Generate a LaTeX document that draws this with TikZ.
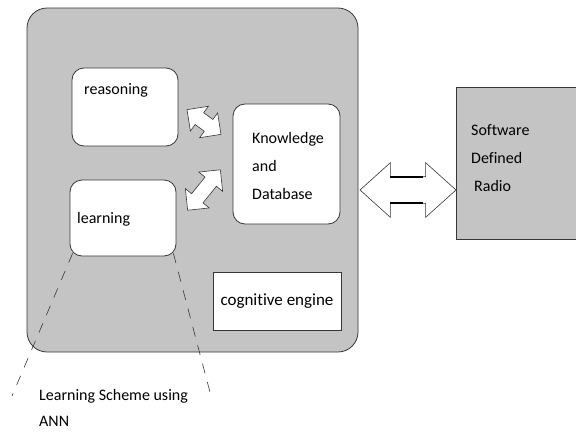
\documentclass[tikz,border=0pt]{standalone}
\usepackage{fontspec}
\setmainfont{Carlito}[Ligatures=NoCommon]
\usetikzlibrary{shapes.arrows}
\definecolor{engineGray}{RGB}{196,196,196}
\definecolor{edgeColor}{RGB}{55,55,55}

\begin{document}
\begin{tikzpicture}[x=1pt,y=-1pt]

          \tikzstyle{outerBox} = [draw=edgeColor, fill=engineGray, rounded corners=20pt, line width=0.8pt, inner sep=0pt];
          \tikzstyle{innerBox} = [draw=edgeColor, fill=white, rounded corners=12pt, line width=0.8pt, inner sep=0pt];
          \tikzstyle{plainBox} = [draw=edgeColor, line width=0.8pt, inner sep=0pt];
          \tikzstyle{boxText} = [inner sep=0pt, align=left, font=\fontsize{16}{28}\selectfont];
          \tikzstyle{bothArrow} = [double arrow, draw=edgeColor, fill=white, line width=0.6pt, inner xsep=0pt];
          \tikzstyle{shaftEdge} = [black, line width=1.8pt];
          \tikzstyle{annEdge} = [edgeColor, line width=0.6pt, dash pattern=on 10pt off 9pt];

          \useasboundingbox (0,0) rectangle (576,434);

          % cognitive engine and the radio
          \node[outerBox, minimum width=331pt, minimum height=344pt] (engine) at (192.5,180) {};
          \node[plainBox, fill=engineGray, minimum width=121pt, minimum height=152pt] (sdr) at (516.5,163) {};

          \node[innerBox, minimum width=106pt, minimum height=78pt] (reasoning) at (125,107) {};
          \node[innerBox, minimum width=106pt, minimum height=76pt] (learning) at (123,218) {};
          \node[innerBox, minimum width=107pt, minimum height=120pt] (knowledge) at (286.5,164) {};
          \node[plainBox, fill=white, minimum width=128pt, minimum height=58pt, font=\fontsize{17}{20}\selectfont] (cognitive) at (277,301) {cognitive engine};

          \node[boxText, anchor=west] (reasoningText) at (84,90) {reasoning};
          \node[boxText, anchor=west] (learningText) at (77,219) {learning};
          \node[boxText, anchor=west] (knowledgeText) at (252,166) {Knowledge\\and\\Database};
          \node[boxText, anchor=west] (sdrText) at (471,158) {Software\\Defined\\\hspace{3pt}Radio};

          % exchanges
          \node[bothArrow, rotate=-36, minimum height=42pt, inner ysep=7pt, double arrow head extend=8pt] (reasonArrow) at (204,122) {};
          \node[bothArrow, rotate=51, minimum height=52pt, inner ysep=7pt, double arrow head extend=8pt] (learnArrow) at (204,190) {};
          \node[bothArrow, minimum height=96pt, inner ysep=13pt, double arrow head extend=14pt, double arrow tip angle=84] (radioArrow) at (408,190) {};
          \draw[shaftEdge] ([shift={(-18,-13)}]radioArrow.center) -- ([shift={(15,-13)}]radioArrow.center);
          \draw[shaftEdge] ([shift={(-18,13)}]radioArrow.center) -- ([shift={(15,13)}]radioArrow.center);

          % learning scheme callout
          \coordinate (annLeft) at (12,396);
          \coordinate (annRight) at (211,396);
          \node[boxText, anchor=west, font=\fontsize{16}{26}\selectfont] (annText) at (39,408) {Learning Scheme using\\ANN};

          \draw[annEdge] ([xshift=3pt,yshift=3pt]learning.south west) -- (annLeft);
          \draw[annEdge] ([xshift=-3pt,yshift=3pt]learning.south east) -- (annRight);
        \end{tikzpicture}
\end{document}
